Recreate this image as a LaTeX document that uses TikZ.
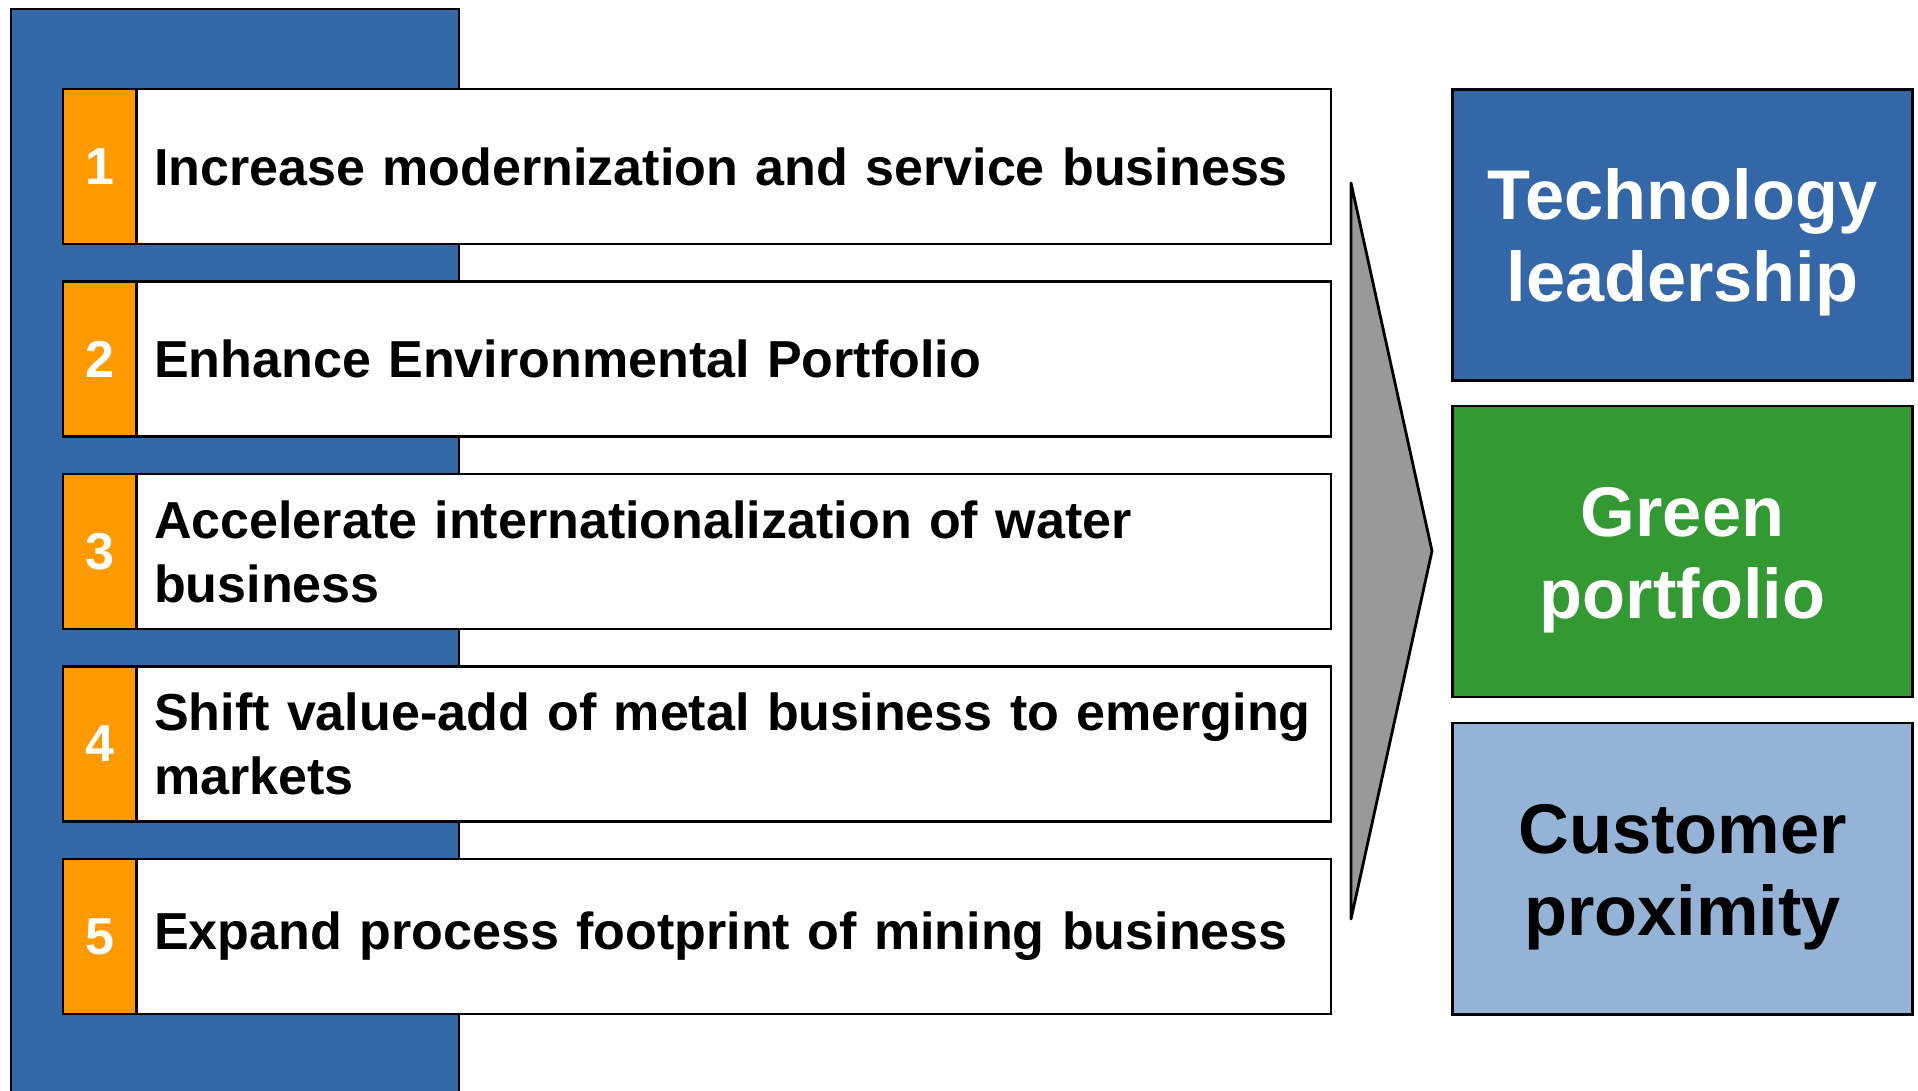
\documentclass[tikz,border=0pt]{standalone}
\usepackage{fontspec}
\setmainfont{Liberation Sans}
\definecolor{barblue}{RGB}{52,103,168}
\definecolor{numorange}{RGB}{255,153,0}
\definecolor{goalgreen}{RGB}{51,153,51}
\definecolor{goallight}{RGB}{149,179,215}
\definecolor{arrowgray}{RGB}{153,153,153}
\hyphenpenalty=10000
\newcommand{\goalstrut}{\rule{0pt}{0.66cm}}

\begin{document}
\begin{tikzpicture}[x=0.01cm,y=-0.01cm,
    numbox/.style={draw,line width=0.6pt,fill=numorange,text=white,
        minimum width=0.73cm,minimum height=1.55cm,inner sep=0pt,
        font=\bfseries\fontsize{14.8}{18.2}\selectfont},
    taskbox/.style={draw,line width=0.6pt,fill=white,anchor=west,
        minimum height=1.55cm,inner xsep=0.17cm,text width=11.59cm,align=left,
        font=\bfseries\fontsize{14.8}{18.2}\selectfont},
    goalbox/.style={draw,line width=0.8pt,minimum width=4.59cm,minimum height=2.91cm,
        align=center,font=\bfseries\fontsize{20}{23.3}\selectfont}]
\useasboundingbox (0,0) rectangle (1918,1091);

\fill[barblue,draw=black,line width=0.6pt] (11,9) rectangle (459,1100);

\foreach \i/\txt in {1/{Increase modernization and service business},
    2/{Enhance Environmental Portfolio},
    3/{Accelerate internationalization of water\\business},
    4/{Shift value-add of metal business to emerging\\markets},
    5/{Expand process footprint of mining business}} {%
    \node (num\i) at (99.5,{166.5+192.5*(\i-1)}) [numbox] {\i};
    \node (task\i) at (136,{166.5+192.5*(\i-1)}) [taskbox] {\txt};
}

\draw[fill=arrowgray,line width=0.8pt,line join=round] (1351,183) -- (1432,551) -- (1351,919) -- cycle;

\node (tech) at (1682.5,235) [goalbox,fill=barblue,text=white] {\goalstrut Technology\\leadership};
\node (green) at (1682.5,551.5) [goalbox,fill=goalgreen,text=white] {\goalstrut Green\\portfolio};
\node (customer) at (1682.5,868.5) [goalbox,fill=goallight,text=black] {\goalstrut Customer\\proximity};
\end{tikzpicture}
\end{document}
